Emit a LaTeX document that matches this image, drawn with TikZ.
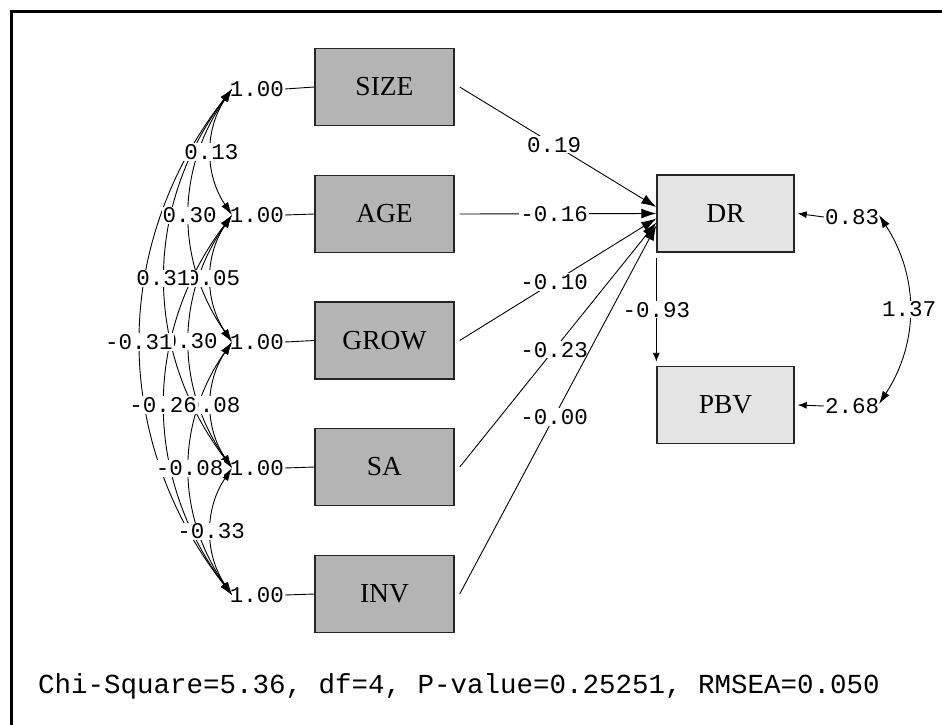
\documentclass[tikz,border=0pt]{standalone}
\usepackage{fontspec}
\setmainfont{Liberation Serif}
\newfontfamily\monof{Liberation Mono}
\usetikzlibrary{arrows.meta}
\definecolor{boxgray}{RGB}{180,180,180}
\definecolor{boxlight}{RGB}{228,228,228}
\begin{document}
\begin{tikzpicture}[x=1pt,y=-1pt,
  exo/.style={draw=black!85,line width=1.4pt,fill=boxgray,minimum width=139pt,minimum height=77pt,inner sep=0pt,font=\fontsize{27.5}{30}\selectfont},
  endo/.style={exo,fill=boxlight,minimum width=137pt},
  lab/.style={font=\monof\fontsize{22.5}{25}\selectfont,inner sep=1pt},
  wlab/.style={lab,fill=white},
  conn/.style={line width=0.9pt},
  cov/.style={conn,{Latex[length=13pt,width=8pt]}-{Latex[length=13pt,width=8pt]}},
  pth/.style={conn,-{Latex[length=15pt,width=10pt]}},
  err/.style={conn,-{Latex[length=9pt,width=7pt]}},
]
\useasboundingbox (0,0) rectangle (942,725);
\fill[white] (0,0) rectangle (942,725);
\draw[line width=3pt] (11.5,725) -- (11.5,11.5) -- (942,11.5);

% boxes
\node[exo] (SIZE) at (384.5,87) {SIZE};
\node[exo] (AGE) at (384.5,214) {AGE};
\node[exo] (GROW) at (384.5,340.5) {GROW};
\node[exo] (SA) at (384.5,467) {SA};
\node[exo] (INV) at (384.5,594) {INV};
\node[endo] (DR) at (725.5,213.5) {DR};
\node[endo] (PBV) at (725.5,405) {PBV};

% variances of exogenous variables
\node[lab] (v1) at (257,89) {1.00};
\node[lab] (v2) at (257,215) {1.00};
\node[lab] (v3) at (257,342) {1.00};
\node[lab] (v4) at (257,468) {1.00};
\node[lab] (v5) at (257,595) {1.00};
\foreach \v/\b in {v1/SIZE,v2/AGE,v3/GROW,v4/SA,v5/INV}
  \draw[conn] (\v.east) -- (\b.west);

\coordinate (c1) at (232,89);
\coordinate (c2) at (232,215);
\coordinate (c3) at (232,342);
\coordinate (c4) at (232,468);
\coordinate (c5) at (232,595);

% covariance arcs
\draw[cov] (c1) to[bend right=34] coordinate[pos=.5] (m12) (c2);
\draw[cov] (c2) to[bend right=34] coordinate[pos=.5] (m23) (c3);
\draw[cov] (c3) to[bend right=34] coordinate[pos=.5] (m34) (c4);
\draw[cov] (c4) to[bend right=34] coordinate[pos=.5] (m45) (c5);
\draw[cov] (c1) to[bend right=35] coordinate[pos=.5] (m13) (c3);
\draw[cov] (c2) to[bend right=35] coordinate[pos=.5] (m24) (c4);
\draw[cov] (c3) to[bend right=35] coordinate[pos=.5] (m35) (c5);
\draw[cov] (c1) to[bend right=37] coordinate[pos=.5] (m14) (c4);
\draw[cov] (c2) to[bend right=37] coordinate[pos=.5] (m25) (c5);
\draw[cov] (c1) to[bend right=38] coordinate[pos=.5] (m15) (c5);

\node[wlab] at (m12) {0.13};
\node[wlab] at ([xshift=2pt]m23) {0.05};
\node[wlab] at ([xshift=2pt]m34) {0.08};
\node[wlab] at (m45) {-0.33};
\node[wlab] at (m13) {0.30};
\node[wlab] at ([xshift=1pt]m24) {0.30};
\node[wlab] at (m35) {-0.08};
\node[wlab] at ([xshift=-2pt]m14) {0.31};
\node[wlab] at ([xshift=-2pt]m25) {-0.26};
\node[wlab] at ([xshift=-2pt]m15) {-0.31};

% paths to DR
\draw[pth] ([xshift=5pt]SIZE.east) -- node[wlab,pos=.48]{0.19} ([yshift=6.5pt]DR.west);
\draw[pth] ([xshift=5pt]AGE.east) -- node[wlab,pos=.48]{-0.16} (DR.west);
\draw[pth] ([xshift=5pt]GROW.east) -- node[wlab,pos=.48]{-0.10} ([yshift=-5pt]DR.west);
\draw[pth] ([xshift=5pt]SA.east) -- node[wlab,pos=.48]{-0.23} ([yshift=-9pt]DR.west);
\draw[pth] ([xshift=5pt]INV.east) -- node[wlab,pos=.48]{-0.00} ([yshift=-12pt]DR.west);

% DR -> PBV
\draw[err] ([yshift=-5pt]DR.south west) -- node[wlab]{-0.93} ([yshift=4pt]PBV.north west);

% error variances
\node[lab] (e1) at (852,217) {0.83};
\node[lab] (e2) at (852,406) {2.68};
\draw[err] (e1.west) -- ([xshift=3pt]DR.east);
\draw[err] (e2.west) -- ([xshift=3pt]PBV.east);
\coordinate (f1) at (879,215);
\coordinate (f2) at (879,404);
\draw[cov] (f1) to[bend left=33] node[wlab]{1.37} (f2);

% fit statistics
\node[anchor=west,font=\monof\fontsize{27.5}{30}\selectfont,inner sep=0pt] (fit) at (38,686) {Chi-Square=5.36, df=4, P-value=0.25251, RMSEA=0.050};
\end{tikzpicture}
\end{document}
